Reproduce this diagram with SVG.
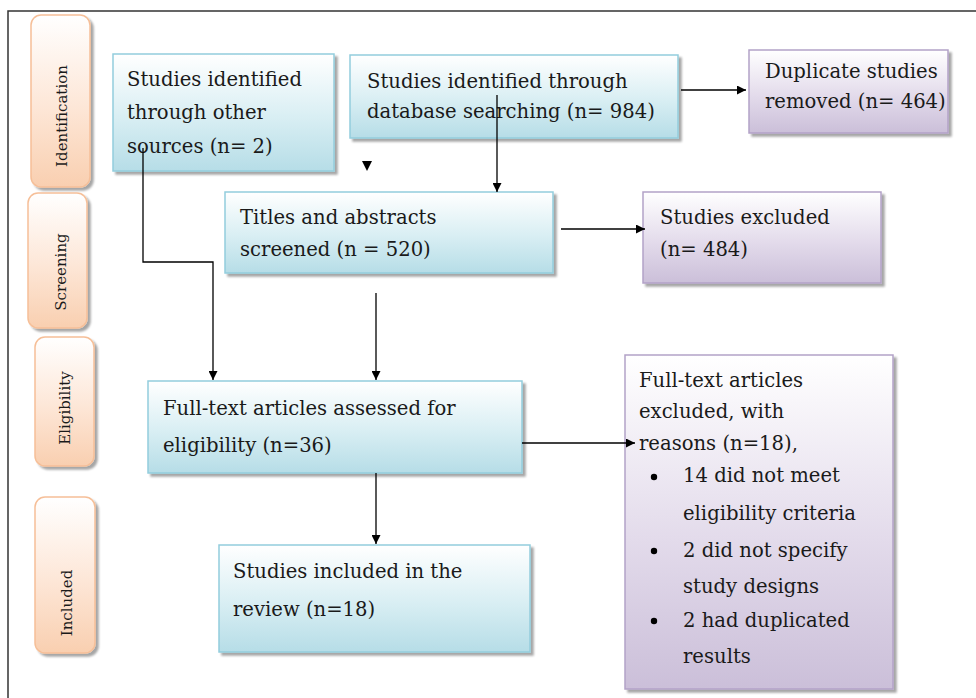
<svg xmlns="http://www.w3.org/2000/svg" width="976" height="698" viewBox="0 0 976 698">
<defs>
<linearGradient id="gBlue" x1="0" y1="0" x2="0" y2="1"><stop offset="0" stop-color="#ffffff"/><stop offset="0.55" stop-color="#d8eef3"/><stop offset="1" stop-color="#b6dde7"/></linearGradient>
<linearGradient id="gPurple" x1="0" y1="0" x2="0" y2="1"><stop offset="0" stop-color="#ffffff"/><stop offset="0.55" stop-color="#e3dbeb"/><stop offset="1" stop-color="#cbbfd9"/></linearGradient>
<linearGradient id="gOrange" x1="0" y1="0" x2="0" y2="1"><stop offset="0" stop-color="#ffffff"/><stop offset="0.55" stop-color="#fde6d6"/><stop offset="1" stop-color="#f9cfb0"/></linearGradient>
<filter id="sh" x="-10%" y="-10%" width="130%" height="130%"><feDropShadow dx="3" dy="3" stdDeviation="1.2" flood-color="#000" flood-opacity="0.35"/></filter>
<marker id="ah" viewBox="0 0 10 10" refX="10" refY="5" markerWidth="10" markerHeight="9" markerUnits="userSpaceOnUse" orient="auto"><path d="M0,0 L10,5 L0,10 Z" fill="#000"/></marker>
<style>
.blue{fill:url(#gBlue);stroke:#93cddd;stroke-width:1.5;filter:url(#sh)}
.purple{fill:url(#gPurple);stroke:#b3a2c7;stroke-width:1.5;filter:url(#sh)}
.side{fill:url(#gOrange);stroke:#f6bf98;stroke-width:1.5;filter:url(#sh)}
.t{font-family:"DejaVu Serif","Liberation Serif",serif;font-size:19.6px;fill:#1a1a1a}
.s{font-family:"DejaVu Serif","Liberation Serif",serif;font-size:15px;fill:#1a1a1a;text-anchor:middle}
.c{stroke:#000;stroke-width:1.3;fill:none}
</style>
</defs>
<rect x="8" y="11" width="1000" height="720" fill="#fff" stroke="#333" stroke-width="1.5"/>

<g id="phase-identification"><rect class="side" x="31" y="15" width="59" height="172" rx="10"/><text class="s" transform="translate(67,116) rotate(-90)">Identification</text></g>
<g id="phase-screening"><rect class="side" x="28" y="193" width="59" height="135" rx="10"/><text class="s" transform="translate(66,272) rotate(-90)">Screening</text></g>
<g id="phase-eligibility"><rect class="side" x="35" y="337" width="59" height="129" rx="10"/><text class="s" transform="translate(70,408) rotate(-90)">Eligibility</text></g>
<g id="phase-included"><rect class="side" x="35" y="497" width="60" height="156" rx="10"/><text class="s" transform="translate(72,603) rotate(-90)">Included</text></g>

<g id="other-sources"><rect class="blue" x="113" y="54" width="221" height="117"/>
<text class="t" x="127" y="86">Studies identified</text><text class="t" x="127" y="119">through other</text><text class="t" x="127" y="153">sources (n= 2)</text></g>

<g id="database"><rect class="blue" x="350" y="55" width="328" height="83"/>
<text class="t" x="367" y="88">Studies identified through</text><text class="t" x="367" y="118">database searching (n= 984)</text></g>

<g id="duplicates"><rect class="purple" x="749" y="50" width="199" height="83"/>
<text class="t" x="765" y="78">Duplicate studies</text><text class="t" x="765" y="108">removed (n= 464)</text></g>

<g id="screened"><rect class="blue" x="225" y="192" width="328" height="81"/>
<text class="t" x="240" y="224">Titles and abstracts</text><text class="t" x="240" y="256">screened (n = 520)</text></g>

<g id="excluded"><rect class="purple" x="643" y="192" width="238" height="91"/>
<text class="t" x="660" y="224">Studies excluded</text><text class="t" x="660" y="256">(n= 484)</text></g>

<g id="fulltext"><rect class="blue" x="148" y="381" width="374" height="92"/>
<text class="t" x="163" y="415">Full-text articles assessed for</text><text class="t" x="163" y="452">eligibility (n=36)</text></g>

<g id="included"><rect class="blue" x="219" y="545" width="311" height="107"/>
<text class="t" x="233" y="578">Studies included in the</text><text class="t" x="233" y="616">review (n=18)</text></g>

<g id="fulltext-excluded"><rect class="purple" x="625" y="355" width="268" height="334"/>
<text class="t" x="639" y="387">Full-text articles</text>
<text class="t" x="639" y="418">excluded, with</text>
<text class="t" x="639" y="450">reasons (n=18),</text>
<circle cx="654" cy="477" r="3.2" fill="#000"/><text class="t" x="683" y="482">14 did not meet</text>
<text class="t" x="683" y="520">eligibility criteria</text>
<circle cx="654" cy="551" r="3.2" fill="#000"/><text class="t" x="683" y="557">2 did not specify</text>
<text class="t" x="683" y="593">study designs</text>
<circle cx="654" cy="621" r="3.2" fill="#000"/><text class="t" x="683" y="627">2 had duplicated</text>
<text class="t" x="683" y="663">results</text></g>

<g id="connectors">
<polyline class="c" points="143,148 143,262 213,262 213,380" marker-end="url(#ah)"/>
<line class="c" x1="497" y1="95" x2="497" y2="192" marker-end="url(#ah)"/>
<line class="c" x1="681" y1="90" x2="746" y2="90" marker-end="url(#ah)"/>
<path d="M362,161 L372,161 L367,171 Z" fill="#000"/>
<line class="c" x1="561" y1="229" x2="645" y2="229" marker-end="url(#ah)"/>
<line class="c" x1="376" y1="293" x2="376" y2="380" marker-end="url(#ah)"/>
<line class="c" x1="522" y1="443" x2="635" y2="443" marker-end="url(#ah)"/>
<line class="c" x1="376" y1="473" x2="376" y2="544" marker-end="url(#ah)"/>
</g>
</svg>
